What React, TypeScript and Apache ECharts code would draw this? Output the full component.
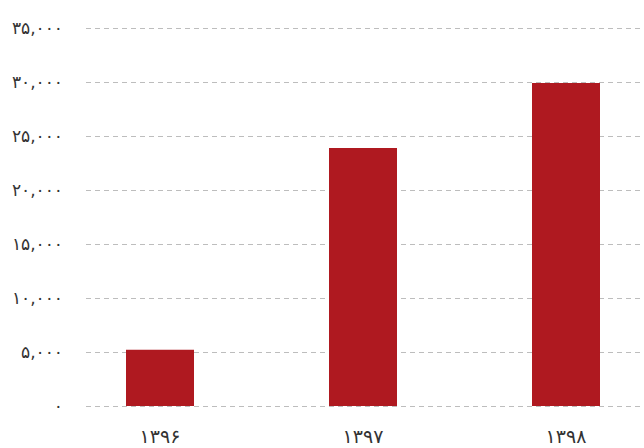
import React, { useEffect, useRef } from "react";
import * as echarts from "echarts";

const categories = ["۱۳۹۶", "۱۳۹۷", "۱۳۹۸"];
const values = [5200, 23900, 29900];
const yTickValues = [0, 5000, 10000, 15000, 20000, 25000, 30000, 35000];
const yTickLabels = ["۰", "۵,۰۰۰", "۱۰,۰۰۰", "۱۵,۰۰۰", "۲۰,۰۰۰", "۲۵,۰۰۰", "۳۰,۰۰۰", "۳۵,۰۰۰"];

const FONT = "'DejaVu Sans', sans-serif";

export default function App() {
  const ref = useRef<HTMLDivElement>(null);
  useEffect(() => {
    if (!ref.current) return;
    const chart = echarts.init(ref.current, null, { renderer: "svg" });
    chart.setOption({
      animation: false,
      backgroundColor: "#ffffff",
      grid: [
        { left: 86, right: 0, top: 28, bottom: 42, outerBoundsMode: "none" },
        { left: 58.5, right: -23.5, top: 28, bottom: 42, outerBoundsMode: "none" },
      ],
      xAxis: [
        { type: "value", gridIndex: 0, show: false, min: 0, max: 1 },
        {
          type: "category",
          gridIndex: 1,
          data: categories,
          axisLine: { show: false },
          axisTick: { show: false },
          axisLabel: { color: "#333", fontSize: 19, fontFamily: FONT, margin: 20 },
        },
      ],
      yAxis: [
        {
          type: "value",
          gridIndex: 0,
          min: 0,
          max: 35000,
          interval: 5000,
          axisLine: { show: false },
          axisTick: { show: false },
          axisLabel: {
            color: "#333",
            fontSize: 17,
            fontFamily: FONT,
            margin: 23,
            formatter: (v: number) => yTickLabels[yTickValues.indexOf(v)] ?? "",
          },
          splitLine: { lineStyle: { color: "#bdbdbd", type: [5, 4], width: 1 } },
        },
        { type: "value", gridIndex: 1, min: 0, max: 35000, interval: 5000, show: false, splitLine: { show: false } },
      ],
      series: [
        {
          type: "bar",
          xAxisIndex: 1,
          yAxisIndex: 1,
          data: values,
          barWidth: 68,
          itemStyle: { color: "#AF1920" },
        },
      ],
    });
    return () => chart.dispose();
  }, []);
  return <div ref={ref} style={{ width: 644, height: 448, position: "absolute", left: 0, top: 0 }} />;
}
